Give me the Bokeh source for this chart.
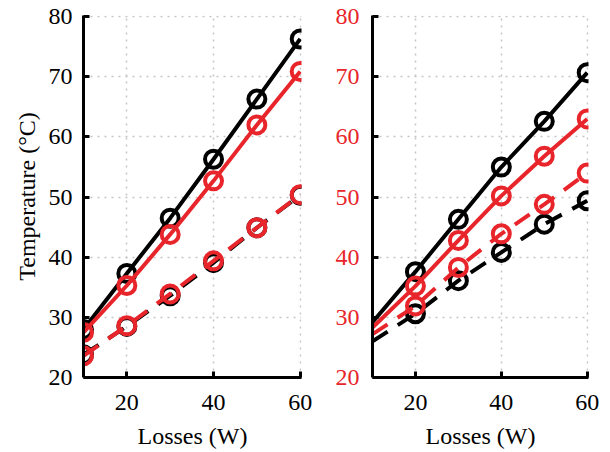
from bokeh.plotting import figure
from bokeh.layouts import row
from bokeh.models import Range1d, FixedTicker
from bokeh.embed import file_html
from bokeh.resources import INLINE

# ---- data ----
losses = [10, 20, 30, 40, 50, 60]

# left panel
left_black_solid = [28.0, 37.3, 46.5, 56.3, 66.3, 76.3]
left_red_solid = [27.5, 35.3, 43.8, 52.7, 62.0, 70.9]
left_black_dashed = [23.8, 28.5, 33.6, 39.1, 44.9, 50.3]
left_red_dashed = [23.6, 28.6, 33.9, 39.4, 44.9, 50.4]

# right panel (x=10 value is the line's start, no marker)
right_black_solid = [29.2, 37.6, 46.3, 55.0, 62.6, 70.7]
right_red_solid = [28.3, 35.2, 42.8, 50.2, 56.8, 63.0]
right_black_dashed = [26.0, 30.6, 36.1, 40.8, 45.5, 49.4]
right_red_dashed = [27.2, 31.9, 38.3, 43.9, 48.8, 54.0]

x_ticks = [20, 40, 60]
y_ticks = [20, 30, 40, 50, 60, 70, 80]

RED = "#e8252b"
BLACK = "#000000"
FONT = "Liberation Serif"
FS = "24px"


def make_fig(width, border_left, border_right, tick_color, ylabel, ystandoff):
    p = figure(width=width, height=452, output_backend="svg", toolbar_location=None,
               x_range=Range1d(10, 60.3), y_range=Range1d(20, 80.2),
               min_border_left=border_left, min_border_right=border_right,
               min_border_top=15, min_border_bottom=75)
    p.outline_line_color = None
    p.background_fill_color = "white"
    p.border_fill_color = "white"
    for ax in (p.xaxis[0], p.yaxis[0]):
        ax.axis_line_width = 3
        ax.axis_line_color = BLACK
        ax.major_tick_in = 6
        ax.major_tick_out = 0
        ax.major_tick_line_width = 3
        ax.major_tick_line_color = BLACK
        ax.minor_tick_line_color = None
        ax.major_label_text_font = FONT
        ax.major_label_text_font_size = FS
        ax.axis_label_text_font = FONT
        ax.axis_label_text_font_size = FS
        ax.axis_label_text_font_style = "normal"
        ax.axis_label_text_color = BLACK
    p.xaxis.ticker = FixedTicker(ticks=x_ticks)
    p.yaxis.ticker = FixedTicker(ticks=y_ticks)
    p.xaxis.major_label_text_color = BLACK
    p.yaxis.major_label_text_color = tick_color
    p.xaxis.major_label_standoff = 17
    p.yaxis.major_label_standoff = ystandoff
    p.xaxis.axis_label = "Losses (W)"
    p.xaxis.axis_label_standoff = 10
    if ylabel:
        p.yaxis.axis_label = ylabel
        p.yaxis.axis_label_standoff = 6
    for g in (p.xgrid[0], p.ygrid[0]):
        g.grid_line_color = "#c4c4c4"
        g.grid_line_dash = "2 5"
        g.grid_line_width = 1.5
    p.xgrid.ticker = FixedTicker(ticks=x_ticks)
    p.ygrid.ticker = FixedTicker(ticks=y_ticks)
    return p


def series(p, xs, ys, color, dashed, mx, my):
    kw = dict(line_color=color, line_width=4)
    if dashed:
        kw["line_dash"] = "18 12"
    p.line(xs, ys, **kw)
    p.scatter(mx, my, marker="circle", size=17, line_color=color, line_width=4,
              fill_alpha=0)


p1 = make_fig(318, 83, 17, BLACK, "Temperature (\u00b0C)", 11)
series(p1, losses, left_black_dashed, BLACK, True, losses, left_black_dashed)
series(p1, losses, left_black_solid, BLACK, False, losses, left_black_solid)
series(p1, losses, left_red_dashed, RED, True, losses, left_red_dashed)
series(p1, losses, left_red_solid, RED, False, losses, left_red_solid)

p2 = make_fig(290, 54, 20, RED, None, 13)
series(p2, losses, right_black_dashed, BLACK, True, losses[1:], right_black_dashed[1:])
series(p2, losses, right_black_solid, BLACK, False, losses[1:], right_black_solid[1:])
series(p2, losses, right_red_dashed, RED, True, losses[1:], right_red_dashed[1:])
series(p2, losses, right_red_solid, RED, False, losses[1:], right_red_solid[1:])

layout = row(p1, p2)
open("out.html", "w").write(file_html(layout, INLINE))
